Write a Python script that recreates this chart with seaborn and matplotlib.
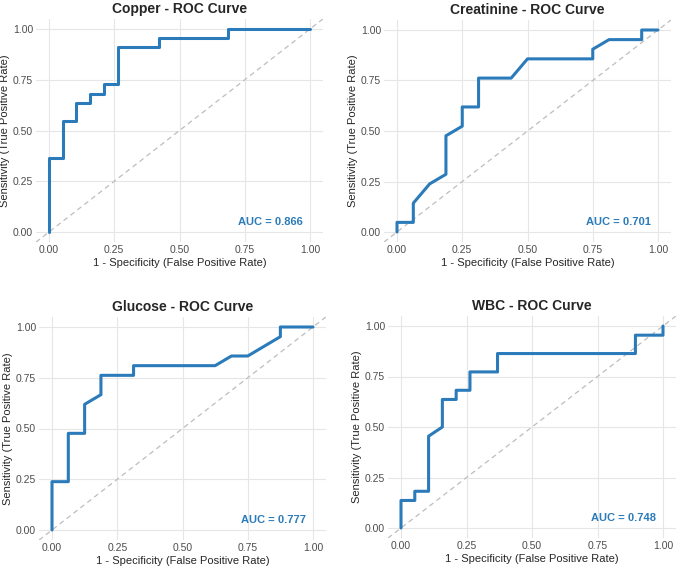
import pandas as pd
import matplotlib
matplotlib.use("Agg")
import matplotlib.pyplot as plt
import seaborn as sns

# ROC curve points
copper_fpr = [0, 0, 1/19, 1/19, 2/19, 2/19, 3/19, 3/19, 4/19, 4/19, 5/19, 5/19, 8/19, 8/19, 13/19, 13/19, 1]
copper_tpr = [0, 8/22, 8/22, 12/22, 12/22, 14/22, 14/22, 15/22, 15/22, 16/22, 16/22, 20/22, 20/22, 21/22, 21/22, 1, 1]

creat_fpr = [0, 0, 1/16, 1/16, 2/16, 3/16, 3/16, 4/16, 4/16, 5/16, 5/16, 7/16, 8/16, 12/16, 12/16, 13/16, 15/16, 15/16, 1]
creat_tpr = [0, 1/21, 1/21, 3/21, 5/21, 6/21, 10/21, 11/21, 13/21, 13/21, 16/21, 16/21, 18/21, 18/21, 19/21, 20/21, 20/21, 1, 1]

gluc_fpr = [0, 0, 1/16, 1/16, 2/16, 2/16, 3/16, 3/16, 5/16, 5/16, 10/16, 11/16, 12/16, 14/16, 14/16, 1]
gluc_tpr = [0, 5/21, 5/21, 10/21, 10/21, 13/21, 14/21, 16/21, 16/21, 17/21, 17/21, 18/21, 18/21, 20/21, 1, 1]

wbc_fpr = [0, 0, 1/19, 1/19, 2/19, 2/19, 3/19, 3/19, 4/19, 4/19, 5/19, 5/19, 7/19, 7/19, 17/19, 17/19, 1, 1]
wbc_tpr = [0, 3/22, 3/22, 4/22, 4/22, 10/22, 11/22, 14/22, 14/22, 15/22, 15/22, 17/22, 17/22, 19/22, 19/22, 21/22, 21/22, 1]

markers = ["Copper", "Creatinine", "Glucose", "WBC"]
auc_values = [0.866, 0.701, 0.777, 0.748]
curves = [(copper_fpr, copper_tpr), (creat_fpr, creat_tpr),
          (gluc_fpr, gluc_tpr), (wbc_fpr, wbc_tpr)]

blue = "#2b7bba"
W, H = 677, 567

sns.set_theme(style="whitegrid")
plt.rcParams["font.family"] = ["Liberation Sans", "DejaVu Sans"]

fig = plt.figure(figsize=(W / 100, H / 100), dpi=100)

# pixel positions of data 0 and 1 on each panel: (x0, x1, y1, y0)
panel_px = [(49, 310, 29, 232), (397, 658, 30, 232),
            (52, 313, 327, 530), (401, 663, 326, 528)]

for name, auc, (fpr, tpr), (x0, x1, y1, y0) in zip(markers, auc_values, curves, panel_px):
    sx = (x1 - x0)
    sy = (y0 - y1)
    left = x0 - 0.05 * sx
    right = x1 + 0.05 * sx
    top = y1 - 0.05 * sy
    bottom = y0 + 0.05 * sy
    ax = fig.add_axes([left / W, 1 - bottom / H, (right - left) / W, (bottom - top) / H])
    ax.set_facecolor("white")

    ax.plot([-0.05, 1.05], [-0.05, 1.05], ls=(0, (4, 3)), color="#bdbdbd", lw=0.9, zorder=1)
    df = pd.DataFrame({"fpr": fpr, "tpr": tpr})
    sns.lineplot(data=df, x="fpr", y="tpr", sort=False, estimator=None,
                 color=blue, lw=2.2, ax=ax, zorder=3)
    ax.text(0.85, 0.05, f"AUC = {auc:.3f}", color=blue, fontsize=8,
            fontweight="bold", ha="center", va="center")

    ax.set_xlim(-0.05, 1.05)
    ax.set_ylim(-0.05, 1.05)
    ticks = [0, 0.25, 0.5, 0.75, 1.0]
    ax.set_xticks(ticks)
    ax.set_yticks(ticks)
    ax.set_xticklabels([f"{t:.2f}" for t in ticks])
    ax.set_yticklabels([f"{t:.2f}" for t in ticks])
    ax.tick_params(axis="both", labelsize=7.5, labelcolor="#4d4d4d", length=0, pad=2)
    ax.grid(True, color="#e6e6e6", lw=0.8)
    for s in ax.spines.values():
        s.set_visible(False)
    ax.set_title(f"{name} - ROC Curve", fontsize=10, fontweight="bold", pad=4)
    ax.set_xlabel("1 - Specificity (False Positive Rate)", fontsize=8, labelpad=2)
    ax.set_ylabel("Sensitivity (True Positive Rate)", fontsize=8, labelpad=2)

fig.savefig("out.png", dpi=100, facecolor="white")
